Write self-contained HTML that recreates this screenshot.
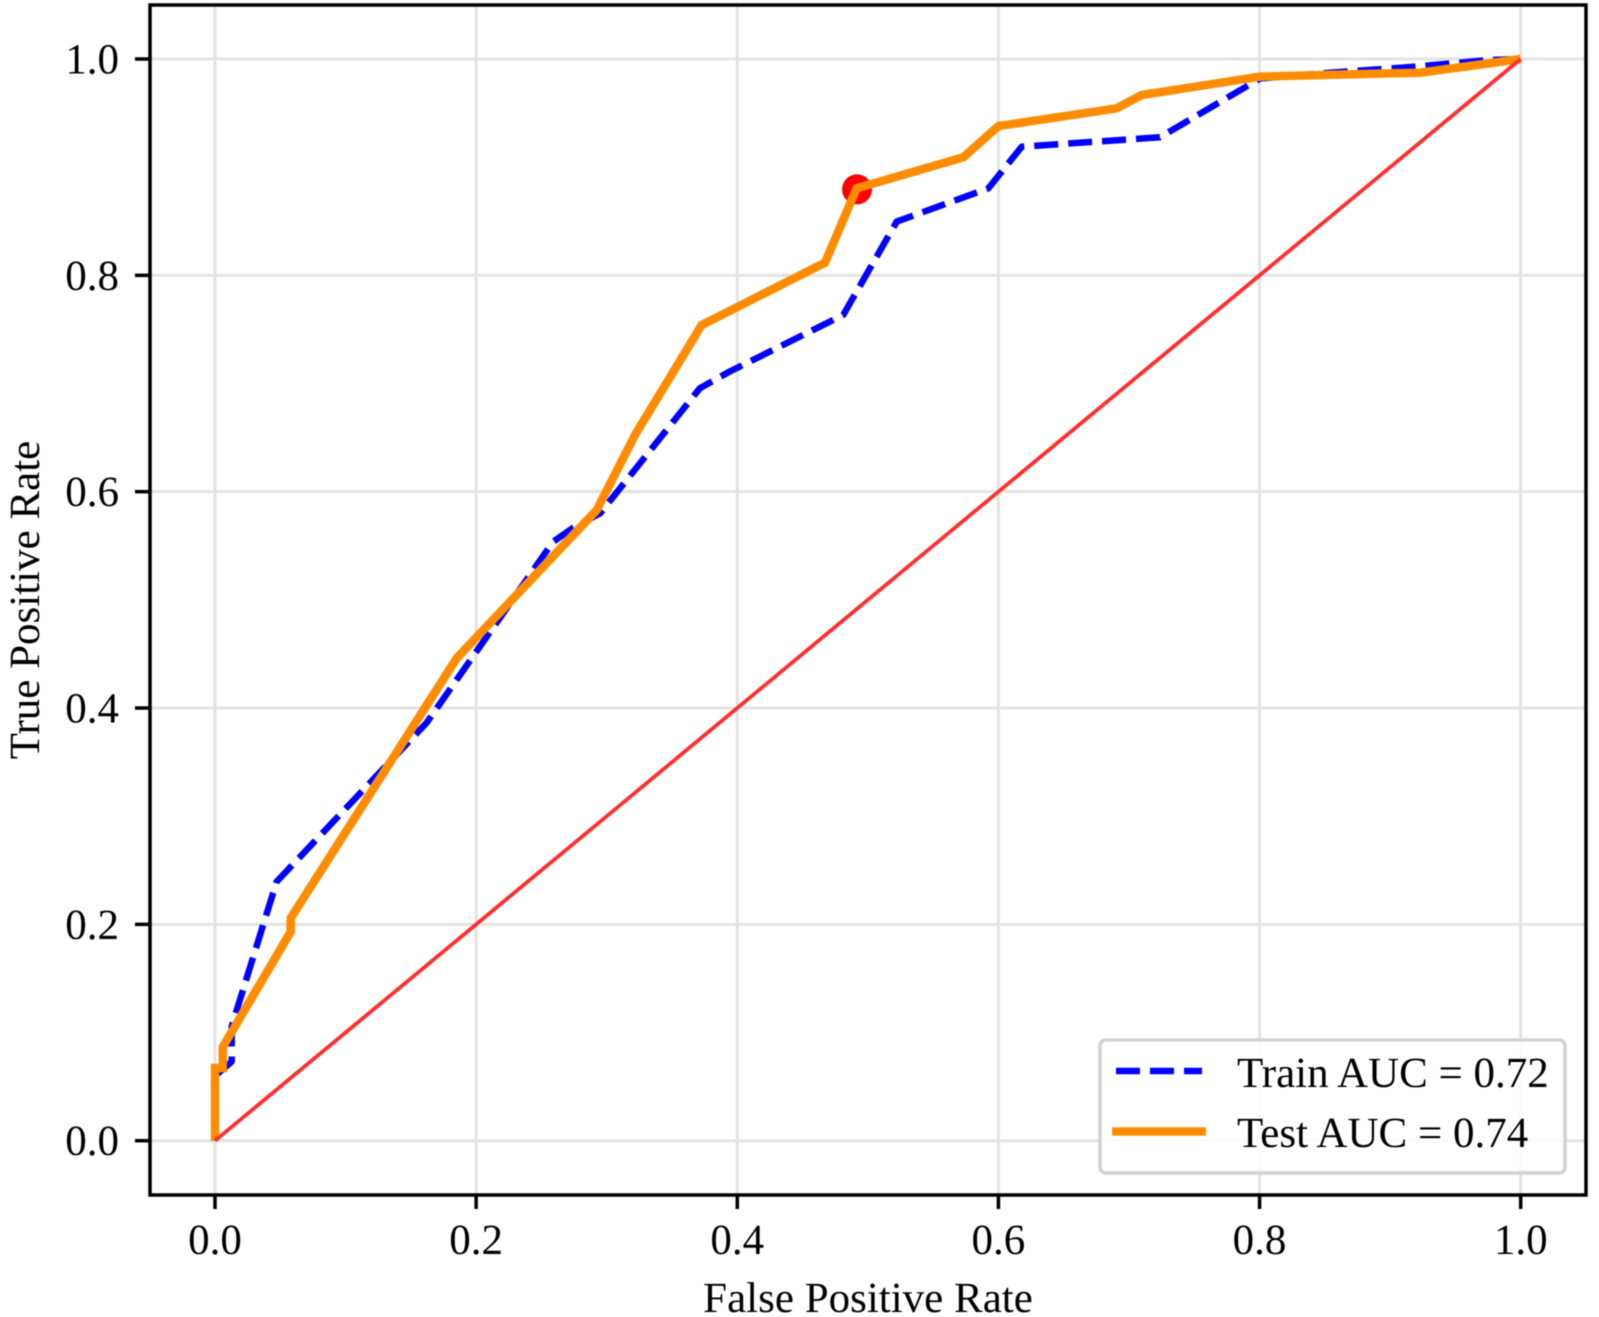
<!DOCTYPE html>
<html lang="en">
<head>
<meta charset="utf-8">
<title>ROC Curve</title>
<style>
html,body{margin:0;padding:0;background:#fff;}
svg{display:block;filter:blur(0.5px);}
text{font-family:"Liberation Serif",serif;font-size:43px;fill:#000;text-rendering:geometricPrecision;}
</style>
</head>
<body>
<svg id="chart" xmlns="http://www.w3.org/2000/svg" width="1599" height="1317" viewBox="0 0 1599 1317">
  <rect x="0" y="0" width="1599" height="1317" fill="#ffffff"/>
  <g id="grid"></g>
  <g id="series"></g>
  <rect x="150" y="5" width="1436" height="1190" fill="none" stroke="#000" stroke-width="3.5"/>
  <g id="ticks"></g>
  <text x="868" y="1312" text-anchor="middle">False Positive Rate</text>
  <text x="0" y="0" text-anchor="middle" transform="translate(39 600) rotate(-90)">True Positive Rate</text>
  <g>
    <rect x="1100" y="1040" width="465" height="133" rx="6" ry="6" fill="#ffffff" fill-opacity="0.85" stroke="#d2d2d2" stroke-width="3.5"/>
    <line x1="1116" y1="1071" x2="1202" y2="1071" stroke="#0000ff" stroke-width="6.5" stroke-dasharray="24 10"/>
    <text x="1237" y="1087">Train AUC = 0.72</text>
    <line x1="1112" y1="1131.5" x2="1206" y2="1131.5" stroke="#ff8c00" stroke-width="8.5"/>
    <text x="1237" y="1147">Test AUC = 0.74</text>
  </g>
</svg>
<script>
var xTickValues = [0.0, 0.2, 0.4, 0.6, 0.8, 1.0];
var yTickValues = [0.0, 0.2, 0.4, 0.6, 0.8, 1.0];
var trainFpr = [0, 0, 0.004, 0.0128, 0.0128, 0.0472, 0.1621, 0.2589, 0.2742, 0.2949, 0.3714, 0.3944, 0.4812, 0.5221, 0.5923, 0.6178, 0.7237, 0.8003, 0.85, 0.92, 0.975, 1];
var trainTpr = [0, 0.06, 0.064, 0.073, 0.1058, 0.2394, 0.3864, 0.5537, 0.5665, 0.58, 0.6957, 0.7112, 0.7634, 0.8497, 0.8805, 0.9189, 0.9276, 0.982, 0.987, 0.993, 0.999, 1];
var testFpr = [0, 0, 0.006, 0.006, 0.058, 0.058, 0.185, 0.2923, 0.3217, 0.3727, 0.4672, 0.4914, 0.5731, 0.5999, 0.6906, 0.7097, 0.8003, 0.8793, 0.9229, 1];
var testTpr = [0, 0.0672, 0.0672, 0.0866, 0.1932, 0.2058, 0.446, 0.583, 0.6525, 0.754, 0.8117, 0.8805, 0.9091, 0.938, 0.9544, 0.9667, 0.9837, 0.9861, 0.9873, 1];
var chanceFpr = [0, 1];
var chanceTpr = [0, 1];
var optimalFpr = [0.4917];
var optimalTpr = [0.8795];

var NS = 'http://www.w3.org/2000/svg';
function sx(v) { return 215 + 1305.7 * v; }
function sy(v) { return 1140.7 - 1081.7 * v; }
function pts(xs, ys) {
  return xs.map(function (x, i) { return sx(x).toFixed(1) + ',' + sy(ys[i]).toFixed(1); }).join(' ');
}
function make(tag, parent, attrs) {
  var el = document.createElementNS(NS, tag);
  for (var k in attrs) { el.setAttribute(k, attrs[k]); }
  parent.appendChild(el);
  return el;
}
var gridG = document.getElementById('grid');
var ticksG = document.getElementById('ticks');
var seriesG = document.getElementById('series');

xTickValues.forEach(function (v) {
  var g = make('line', gridG, {x1: sx(v), x2: sx(v), y1: 6, y2: 1194, stroke: '#e3e3e3', 'stroke-width': 3});
  
  
  var t = make('line', ticksG, {x1: sx(v), x2: sx(v), y1: 1195, y2: 1209, stroke: '#000', 'stroke-width': 3.5});
  
  
  var l = make('text', ticksG, {x: sx(v), y: 1254, 'text-anchor': 'middle'});
  
  
  l.textContent = v.toFixed(1);
});
yTickValues.forEach(function (v) {
  var g = make('line', gridG, {x1: 151, x2: 1585, y1: sy(v), y2: sy(v), stroke: '#e3e3e3', 'stroke-width': 3});
  
  
  var t = make('line', ticksG, {x1: 135, x2: 150, y1: sy(v), y2: sy(v), stroke: '#000', 'stroke-width': 3.5});
  
  
  var l = make('text', ticksG, {x: 119, y: sy(v) + 14.5, 'text-anchor': 'end'});
  
  
  l.textContent = v.toFixed(1);
});

var train = make('polyline', seriesG, {points: pts(trainFpr, trainTpr), fill: 'none', stroke: '#0000ff', 'stroke-width': 6.5, 'stroke-dasharray': '24 10', 'stroke-linejoin': 'round'});



optimalFpr.forEach(function (v, i) {
  var d = make('circle', seriesG, {cx: sx(v), cy: sy(optimalTpr[i]), r: 15, fill: '#ff0000'});
  
  
});

var test = make('polyline', seriesG, {points: pts(testFpr, testTpr), fill: 'none', stroke: '#ff8c00', 'stroke-width': 8.5, 'stroke-linejoin': 'miter'});



var chance = make('polyline', seriesG, {points: pts(chanceFpr, chanceTpr), fill: 'none', stroke: '#ff2f2f', 'stroke-width': 3.8});


</script>
</body>
</html>
